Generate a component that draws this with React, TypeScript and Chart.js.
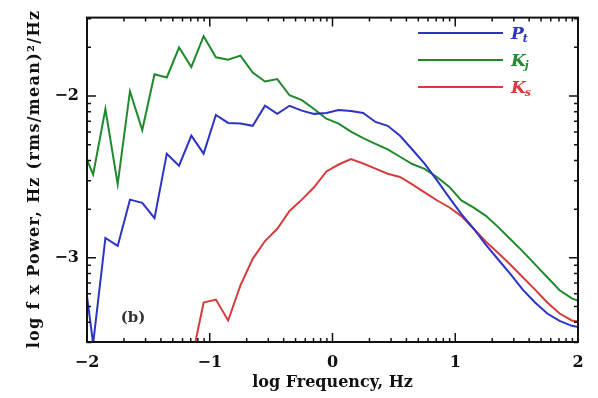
import React, { useEffect, useRef } from "react";
import { Chart, registerables } from "chart.js";

Chart.register(...registerables);

// log frequency grid (Hz, log10)
const logFreq = [
  -2.05, -1.95, -1.85, -1.75, -1.65, -1.55, -1.45, -1.35, -1.25, -1.15, -1.05,
  -0.95, -0.85, -0.75, -0.65, -0.55, -0.45, -0.35, -0.25, -0.15, -0.05,
  0.05, 0.15, 0.25, 0.35, 0.45, 0.55, 0.65, 0.75, 0.85, 0.95,
  1.05, 1.15, 1.25, 1.35, 1.45, 1.55, 1.65, 1.75, 1.85, 1.95, 2.05,
];

const seriesPt = [
  -2.945, -3.53, -2.877, -2.926, -2.64, -2.66, -2.755, -2.356, -2.43, -2.245, -2.356,
  -2.117, -2.166, -2.17, -2.184, -2.06, -2.11, -2.06, -2.09, -2.11, -2.104,
  -2.086, -2.092, -2.104, -2.16, -2.184, -2.245, -2.33, -2.417, -2.52, -2.626,
  -2.73, -2.82, -2.92, -3.01, -3.1, -3.196, -3.276, -3.344, -3.39, -3.42, -3.435,
];

const seriesKj = [
  -2.3, -2.485, -2.08, -2.545, -1.97, -2.21, -1.865, -1.885, -1.7, -1.82, -1.63,
  -1.76, -1.775, -1.75, -1.855, -1.91, -1.895, -1.995, -2.025, -2.08, -2.14,
  -2.17, -2.22, -2.26, -2.295, -2.33, -2.375, -2.42, -2.45, -2.5, -2.56,
  -2.645, -2.69, -2.74, -2.81, -2.885, -2.96, -3.04, -3.12, -3.2, -3.25, -3.28,
];

const seriesKs = [
  null, null, null, null, null, null, null, null, null, -3.64, -3.276,
  -3.258, -3.387, -3.17, -3.006, -2.896, -2.82, -2.71, -2.64, -2.564, -2.466,
  -2.423, -2.39, -2.417, -2.448, -2.48, -2.5, -2.546, -2.595, -2.644, -2.687,
  -2.742, -2.82, -2.9, -2.97, -3.043, -3.12, -3.196, -3.276, -3.344, -3.387, -3.4,
];

const xTickValues = [-2, -1, 0, 1, 2];
const yTickValues = [-3, -2];

const xTitle = "log Frequency, Hz";
const yTitle = "log f x Power, Hz (rms/mean)²/Hz";

const legendItems = [
  { main: "P", sub: "t", color: "#2c34c2" },
  { main: "K", sub: "j", color: "#1f8a2c" },
  { main: "K", sub: "s", color: "#d63c3c" },
];

const FONT = '"DejaVu Serif", serif';
const fmt = (v: number) => (v < 0 ? "\u2212" + String(-v) : String(v));

const decoPlugin = {
  id: "deco",
  afterDatasetsDraw(chart: any) {
    const { ctx, chartArea, scales } = chart;
    const { left, right, top, bottom } = chartArea;
    const xs = scales.x;
    const ys = scales.y;
    ctx.save();
    ctx.strokeStyle = "#111";
    ctx.lineWidth = 2;
    ctx.strokeRect(left, top, right - left, bottom - top);

    ctx.lineWidth = 1.5;
    const drawX = (v: number, len: number) => {
      const px = xs.getPixelForValue(v);
      if (px < left - 0.5 || px > right + 0.5) return;
      ctx.beginPath();
      ctx.moveTo(px, bottom);
      ctx.lineTo(px, bottom - len);
      ctx.moveTo(px, top);
      ctx.lineTo(px, top + len);
      ctx.stroke();
    };
    const drawY = (v: number, len: number) => {
      const py = ys.getPixelForValue(v);
      if (py < top - 0.5 || py > bottom + 0.5) return;
      ctx.beginPath();
      ctx.moveTo(left, py);
      ctx.lineTo(left + len, py);
      ctx.moveTo(right, py);
      ctx.lineTo(right - len, py);
      ctx.stroke();
    };
    for (let d = -3; d <= 2; d++) {
      for (let k = 2; k <= 9; k++) drawX(d + Math.log10(k), 4);
    }
    xTickValues.forEach((v) => drawX(v, 9));
    for (let d = -5; d <= -1; d++) {
      for (let k = 2; k <= 9; k++) drawY(d + Math.log10(k), 4);
    }
    yTickValues.forEach((v) => drawY(v, 9));

    // legend
    legendItems.forEach((it, i) => {
      const ly = 33 + i * 27;
      ctx.strokeStyle = it.color;
      ctx.lineWidth = 2;
      ctx.beginPath();
      ctx.moveTo(418, ly);
      ctx.lineTo(503, ly);
      ctx.stroke();
      ctx.fillStyle = it.color;
      ctx.textBaseline = "alphabetic";
      ctx.textAlign = "left";
      ctx.font = `italic bold 17px ${FONT}`;
      ctx.fillText(it.main, 511, ly + 6);
      const w = ctx.measureText(it.main).width;
      ctx.font = `italic bold 11px ${FONT}`;
      ctx.fillText(it.sub, 511 + w - 1, ly + 9);
    });

    // panel label
    ctx.fillStyle = "#333";
    ctx.font = `bold 15px ${FONT}`;
    ctx.textAlign = "center";
    ctx.textBaseline = "middle";
    ctx.fillText("(b)", 133, 318);

    // y title (letter-spaced like the original)
    ctx.translate(35, 179);
    ctx.rotate(-Math.PI / 2);
    ctx.fillStyle = "#111";
    ctx.font = `bold 16px ${FONT}`;
    (ctx as any).letterSpacing = "1.3px";
    ctx.textAlign = "center";
    ctx.textBaseline = "middle";
    ctx.fillText(yTitle, 0, 0);
    ctx.restore();
  },
};

export default function App() {
  const ref = useRef<HTMLCanvasElement | null>(null);
  useEffect(() => {
    if (!ref.current) return;
    const mk = (vals: (number | null)[]) =>
      logFreq.map((x, i) => ({ x, y: vals[i] }));
    const chart = new Chart(ref.current, {
      type: "line",
      data: {
        datasets: [
          { label: "Pt", data: mk(seriesPt), borderColor: legendItems[0].color, borderWidth: 2, pointRadius: 0, tension: 0, spanGaps: false },
          { label: "Kj", data: mk(seriesKj), borderColor: legendItems[1].color, borderWidth: 2, pointRadius: 0, tension: 0, spanGaps: false },
          { label: "Ks", data: mk(seriesKs), borderColor: legendItems[2].color, borderWidth: 2, pointRadius: 0, tension: 0, spanGaps: false },
        ],
      },
      options: {
        animation: false,
        responsive: false,
        layout: { padding: { left: 0, top: 15, right: 20, bottom: 0 } },
        plugins: { legend: { display: false }, tooltip: { enabled: false } },
        scales: {
          x: {
            type: "linear",
            min: -2,
            max: 2,
            afterBuildTicks: (s: any) => {
              s.ticks = xTickValues.map((v) => ({ value: v }));
            },
            afterFit: (s: any) => {
              s.height = 56;
            },
            grid: { display: false, drawTicks: false },
            border: { display: false },
            ticks: {
              padding: 11,
              color: "#111",
              font: { family: FONT, size: 16, weight: "bold" },
              maxRotation: 0,
              callback: (v: any) => fmt(Number(v)),
            },
            title: {
              display: true,
              text: xTitle,
              color: "#111",
              font: { family: FONT, size: 16, weight: "bold" },
              padding: { top: 0, bottom: 6 },
            },
          },
          y: {
            type: "linear",
            min: -3.52,
            max: -1.515,
            afterBuildTicks: (s: any) => {
              s.ticks = yTickValues.map((v) => ({ value: v }));
            },
            afterFit: (s: any) => {
              s.width = 87;
            },
            grid: { display: false, drawTicks: false },
            border: { display: false },
            ticks: {
              padding: 8,
              color: "#111",
              font: { family: FONT, size: 16, weight: "bold" },
              callback: (v: any) => fmt(Number(v)),
            },
            title: { display: false },
          },
        },
      },
      plugins: [decoPlugin],
    });
    return () => chart.destroy();
  }, []);
  return (
    <div style={{ position: "absolute", left: 0, top: 0, width: 598, height: 398, background: "#fff" }}>
      <canvas ref={ref} width={598} height={398} />
    </div>
  );
}
